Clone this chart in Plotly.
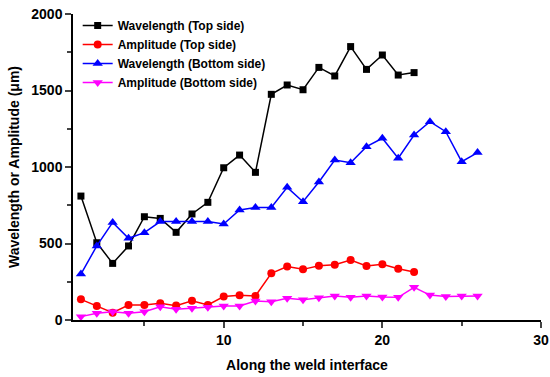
import plotly.graph_objects as go

x_top = list(range(1, 23))
x_bottom = list(range(1, 27))

wavelength_top = [810, 505, 370, 484, 675, 664, 573, 693, 769, 995, 1078, 965,
                  1475, 1536, 1505, 1651, 1595, 1787, 1638, 1732, 1601, 1617]
amplitude_top = [135, 92, 48, 98, 98, 109, 94, 126, 98, 153, 161, 157,
                 305, 349, 331, 355, 361, 392, 353, 364, 335, 314]
wavelength_bottom = [300, 484, 638, 534, 571, 643, 643, 643, 643, 627, 719, 736,
                     736, 867, 773, 902, 1046, 1028, 1133, 1188, 1057, 1209,
                     1296, 1231, 1035, 1094]
amplitude_bottom = [22, 44, 54, 44, 54, 87, 70, 76, 83, 92, 92, 124,
                    120, 142, 133, 146, 157, 148, 157, 150, 148, 214,
                    163, 153, 157, 157]

FONT = "Arial, Liberation Sans, sans-serif"

fig = go.Figure()
fig.add_trace(go.Scatter(x=x_top, y=wavelength_top, mode="lines+markers",
                         name="Wavelength (Top side)",
                         line=dict(color="black", width=1.5),
                         marker=dict(symbol="square", size=7, color="black")))
fig.add_trace(go.Scatter(x=x_top, y=amplitude_top, mode="lines+markers",
                         name="Amplitude (Top side)",
                         line=dict(color="red", width=1.5),
                         marker=dict(symbol="circle", size=8, color="red")))
fig.add_trace(go.Scatter(x=x_bottom, y=wavelength_bottom, mode="lines+markers",
                         name="Wavelength (Bottom side)",
                         line=dict(color="blue", width=1.5),
                         marker=dict(symbol="triangle-up", size=9, color="blue")))
fig.add_trace(go.Scatter(x=x_bottom, y=amplitude_bottom, mode="lines+markers",
                         name="Amplitude (Bottom side)",
                         line=dict(color="magenta", width=1.5),
                         marker=dict(symbol="triangle-down", size=9, color="magenta")))

fig.update_layout(
    width=550, height=377,
    margin=dict(l=73, r=9, t=14, b=57, autoexpand=False),
    plot_bgcolor="white", paper_bgcolor="white",
    font=dict(family=FONT, size=14, color="black", weight="bold"),
    showlegend=True,
    legend=dict(x=0.01, y=1.01, xanchor="left", yanchor="top",
                bgcolor="rgba(0,0,0,0)", font=dict(size=12, weight="bold"),
                tracegroupgap=0, itemwidth=30),
)
fig.update_xaxes(
    range=[0.5, 30], tickvals=[10, 20, 30], ticks="outside", ticklen=6, tickwidth=1.5,
    showline=True, linecolor="black", linewidth=1.5, showgrid=False, zeroline=False,
    automargin=False, ticklabeloverflow="allow",
    minor=dict(tickvals=[5, 15, 25], ticks="outside", ticklen=4, tickwidth=1.5, showgrid=False),
    title=dict(text="Along the weld interface", font=dict(size=14, weight="bold"), standoff=14),
    tickfont=dict(size=14, weight="bold"),
)
fig.update_yaxes(
    range=[0, 2000], dtick=500, ticks="outside", ticklen=6, tickwidth=1.5,
    showline=True, linecolor="black", linewidth=1.5, showgrid=False, zeroline=False,
    automargin=False, ticklabeloverflow="allow",
    minor=dict(dtick=250, ticks="outside", ticklen=4, tickwidth=1.5, showgrid=False),
    title=dict(text="Wavelength or Amplitude (μm)", font=dict(size=14, weight="bold"), standoff=8),
    tickfont=dict(size=14, weight="bold"),
)

# remove the browser's default 8px body margin so the figure fills the window
fig.write_html("out.html",
               config={"displayModeBar": False},
               post_script="document.body.style.margin='0px';document.body.style.overflow='hidden';")
